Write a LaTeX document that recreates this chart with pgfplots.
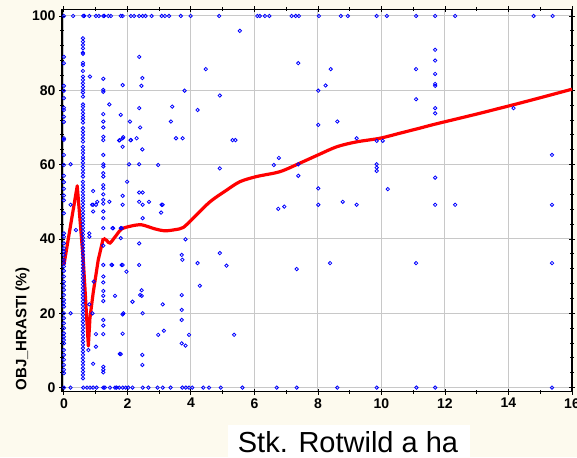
\documentclass[border=0pt]{standalone}
\usepackage{pgfplots}
\usepackage{pgfplotstable}
\pgfplotsset{compat=1.18}
\usepackage{fontspec}
\setmainfont{Liberation Sans}
\definecolor{bgcream}{RGB}{253,250,238}
\definecolor{gridgray}{RGB}{200,200,200}

% scatter: Stk. Rotwild a ha vs OBJ_HRASTI (%)
\pgfplotstableread{
x y
0 100
0.29 100
0.61 100
0.64 100
0.8 100
1.01 100
1.1 100
1.24 100
1.27 100
1.4 100
1.48 100
1.79 100
1.85 100
2.11 100
2.21 100
2.37 100
2.48 100
2.57 100
2.76 100
3.08 100
3.18 100
3.31 100
3.68 100
3.99 100
4.89 100
6.09 100
6.17 100
6.33 100
6.47 100
7.17 100
7.3 100
7.4 100
8.03 100
8.72 100
8.94 100
9.85 100
10.17 100
11.09 100
11.69 100
12.32 100
14.79 100
15.39 100
0 0
0.21 0
0.61 0
0.73 0
0.82 0
0.92 0
1.03 0
1.24 0
1.29 0
1.45 0
1.61 0
1.66 0
1.74 0
1.85 0
1.95 0
2.03 0
2.16 0
2.48 0
2.66 0
2.95 0
3.11 0
3.36 0
3.73 0
3.84 0
3.94 0
4.04 0
4.39 0
4.57 0
4.94 0
5.62 0
6.7 0
7.33 0
8.61 0
9.85 0
11.1 0
11.69 0
15.37 0
0 89
0 87.3
0 81.2
0 79.9
0 77.9
0 75.3
0 74.7
0 72.9
0 71.5
0 67.1
0 66.7
0 62.6
0 59.9
0 57
0 55.3
0 53.5
0 51.7
0 50.4
0 46.9
0 41.5
0 40.6
0 38.8
0 37.5
0 36.6
0 35.7
0 34.4
0 33.5
0 32.6
0 31.4
0 29.9
0 28.5
0 27.4
0 26.3
0 24.9
0 23.6
0 22.7
0 21.8
0 20
0 18.7
0 17.3
0 16
0 14.6
0 13.7
0 12.8
0 11.9
0 10.1
0 8.8
0 7.5
0 6.1
0 4.8
0 3.9
0.6 94.0
0.6 93.1
0.6 92.2
0.6 91.3
0.6 90.1
0.6 89.8
0.6 87.4
0.6 86.8
0.6 85.2
0.6 83.7
0.6 82.8
0.6 81.9
0.6 81.0
0.6 80.1
0.6 79.4
0.6 78.3
0.6 76.2
0.6 75.6
0.6 74.7
0.6 73.8
0.6 72.9
0.6 72.2
0.6 71.3
0.6 69.8
0.6 68.9
0.6 68.0
0.6 67.1
0.6 66.2
0.6 64.8
0.6 63.9
0.6 63.1
0.6 62.1
0.6 61.4
0.6 60.5
0.6 59.5
0.6 58.6
0.6 57.7
0.6 56.8
0.6 55.4
0.6 54.5
0.6 53.6
0.6 52.7
0.6 51.8
0.6 51.0
0.6 50.2
0.6 49.3
0.6 48.4
0.6 47.5
0.6 46.6
0.6 45.7
0.6 44.8
0.6 43.9
0.6 43.0
0.6 42.1
0.6 41.2
0.6 40.3
0.6 39.4
0.6 38.5
0.6 37.6
0.6 36.7
0.6 35.8
0.6 34.9
0.6 34.0
0.6 33.1
0.6 32.2
0.6 31.3
0.6 30.4
0.6 29.5
0.6 28.6
0.6 27.7
0.6 26.8
0.6 25.9
0.6 25.0
0.6 24.1
0.6 23.2
0.6 22.3
0.6 21.4
0.6 20.5
0.6 19.6
0.6 18.7
0.6 17.8
0.6 16.9
0.6 16.0
0.6 15.1
0.6 14.2
0.6 13.3
0.6 12.4
0.6 11.5
0.6 10.6
0.6 9.7
0.6 8.8
0.6 7.9
0.6 7.0
0.6 6.1
0.6 5.2
0.6 4.3
0.6 3.4
0.6 2.5
1.24 83.1
1.24 80.1
1.24 79.6
1.24 73.6
1.24 71.6
1.24 70
1.24 67.5
1.24 66.6
1.24 62.6
1.24 60.1
1.24 59.5
1.24 57.7
1.24 56.8
1.24 54.5
1.24 53.6
1.24 52
1.24 50.5
1.24 49.5
1.24 47.4
1.24 45.6
1.24 42.9
1.24 38.2
1.24 33
1.24 29.9
1.24 28.3
1.24 26
1.24 24.7
1.24 23.3
1.24 18.2
1.24 16.7
1.24 14.4
1.24 5.6
1.24 4.8
1.24 4.1
0.21 60.1
0.21 49.2
0.21 20
0.38 42.4
0.8 41.5
0.8 40.6
0.94 28.5
0.8 22.4
0.77 10.1
0.92 6.4
1.01 11
1.01 14.4
0.9 20
0.92 49.2
1.01 49.2
0.92 47.4
1.05 50
0.92 52.9
0.82 83.7
1.43 50
1.55 42.9
1.61 24.7
1.52 33
1.76 9.1
1.79 42.9
1.79 40.2
1.85 49.2
1.85 33
1.85 19.7
1.85 14.5
1.97 31.2
2.16 23.1
2.37 50
2.37 38.8
2.37 33
2.4 24.9
2.45 26.2
2.48 45.6
2.48 49.2
2.48 20
2.47 8.8
2.47 6.1
2.68 50
3.08 49.2
3.06 47.1
3.11 22.4
2.97 14.2
3.15 15.3
3.71 18.2
3.71 35.7
3.73 34.4
3.71 24.9
3.71 20.9
3.71 11.9
3.83 11.3
3.83 39.9
3.94 14.2
4.21 33.5
4.28 27.4
1.5 33
1.82 33
2.45 24.7
1.87 20
1.79 9
1.43 76.2
1.79 73.4
1.85 81.4
1.74 66.5
1.85 67.1
1.85 64.8
1.85 51.6
2.08 71.6
2.1 66.6
2.05 60.1
1.99 55.4
2.29 67.1
2.37 89
2.37 75.2
2.4 70
2.47 83.3
2.44 81.2
2.47 64.1
2.37 60.1
2.37 52.5
2.48 52.5
2.97 59.9
3.37 71.6
3.41 75.6
3.53 67.1
3.74 67.1
3.8 79.9
4.21 74.7
1.76 66.6
1.87 67.4
2.11 66.6
0.89 49.2
1.53 42.9
1.82 42.9
3.11 49.2
5.54 96
4.47 85.7
4.91 78.6
5.31 66.6
5.4 66.6
4.91 59
7.38 87.3
8.01 79.9
8.24 81.3
8.4 85.7
8.01 70.7
8.61 71.6
9.22 67.1
9.85 66.4
10.04 66.4
9.85 60.1
9.85 59.2
9.85 58.3
6.77 61.8
6.61 59.9
7.38 60.1
7.38 57
8.01 53.6
6.75 48.1
6.94 48.7
8.01 49.2
8.78 50
9.22 49.2
4.91 36.2
5.12 32.8
7.33 31.9
8.38 33.5
5.36 14.2
11.69 90.9
11.69 88
11.09 85.7
11.69 84.4
11.69 81.7
11.69 81.2
11.09 77.6
11.69 75.2
11.69 73.8
14.16 75.2
15.37 62.6
11.69 56.5
10.2 53.4
11.69 49.2
12.32 49.2
15.37 49.2
11.09 33.5
15.37 33.5
}\scatterdata

% fitted curve, steep part near 0
\pgfplotstableread{
x y
0 33
0.42 54.3
0.61 34.3
0.77 11.2
0.82 18.7
0.92 25.4
1.08 34.3
1.24 40.2
}\fitleft

% fitted curve, smooth part
\pgfplotstableread{
x y
1.24 40.2
1.35 39.6
1.45 38.9
1.66 41.1
1.82 42.7
2.13 43.5
2.45 43.8
2.87 42.7
3.18 42.2
3.5 42.5
3.76 43.1
4.07 45.6
4.6 50
5.1 53
5.54 55.4
6.07 56.8
6.8 58.1
7.43 60.4
8.0 62.6
8.59 64.8
9.2 66.1
9.95 67.1
10.6 68.5
11.2 69.8
11.69 70.9
12.9 73.4
14.06 75.9
15 78
16 80.3
}\fitright

\begin{document}
\begin{tikzpicture}[x=1pt,y=1pt]
\fill[bgcream] (0,0) rectangle (577,457);
\useasboundingbox (0,0) rectangle (577,457);
\begin{axis}[
  at={(62pt,65.3pt)}, anchor=south west,
  scale only axis, width=510pt, height=382.4pt,
  xmin=-0.06, xmax=16, ymin=-1.1, ymax=101.8,
  xtick={0,2,...,16}, ytick={0,20,...,100},
  minor x tick num=1, minor y tick num=4,
  axis background/.style={fill=white},
  grid=major, major grid style={gridgray, line width=1pt},
  axis line style={black, line width=1.1pt},
  tick align=center, major tick length=6pt, minor tick length=4pt,
  tick style={black, line width=0.9pt},
  /pgf/number format/assume math mode=true,
  ticklabel style={font=\fontsize{14}{16}\selectfont\bfseries},
  clip=false,
]
\addplot[only marks, mark=o, mark size=1.7pt, blue, mark options={line width=0.8pt}] table {\scatterdata};
\addplot[red, line width=3.2pt, line join=round] table {\fitleft};
\addplot[red, line width=3.2pt, smooth] table {\fitright};
\end{axis}
\node[rotate=90, font=\fontsize{15}{18}\selectfont\bfseries] at (22.5,128) {OBJ\_HRASTI (\%)};
\fill[white] (228,0) rectangle (470,32);
\node[font=\fontsize{29}{34}\selectfont, anchor=base] at (348,5) {Stk. Rotwild a ha};
\end{tikzpicture}
\end{document}
